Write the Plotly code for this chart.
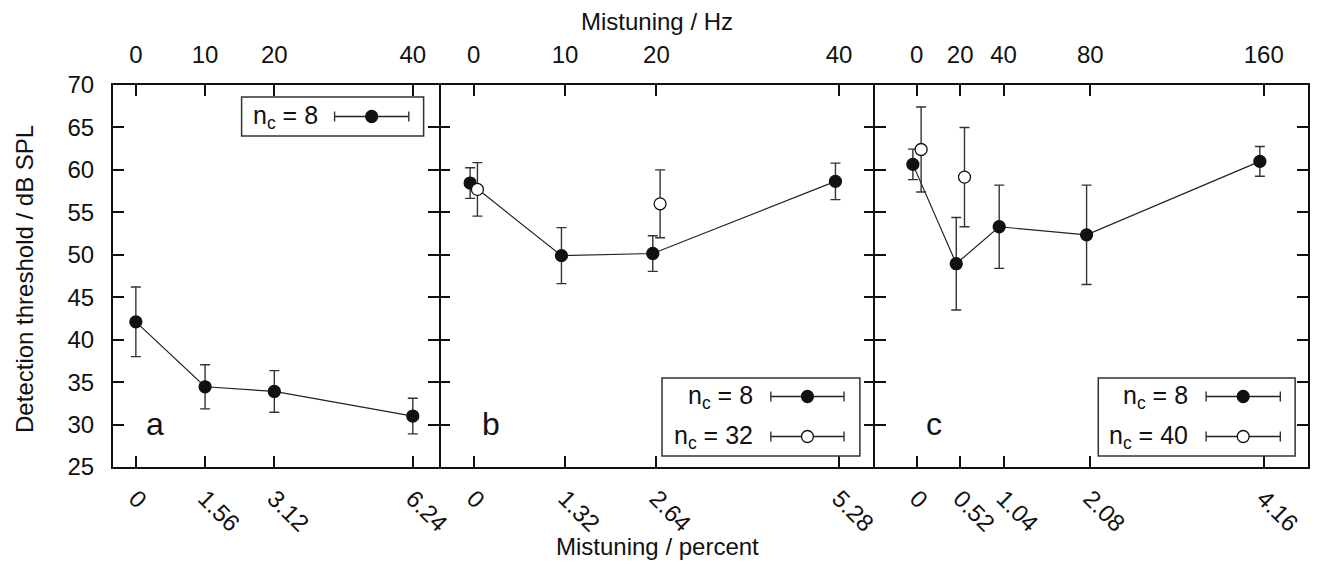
import plotly.graph_objects as go

# ---------------- data ----------------
# Panel a (n_c = 8)
a_hz_ticks = [0, 10, 20, 40]
a_pct_labels = ["0", "1.56", "3.12", "6.24"]
a_n8_x = [0, 10, 20, 40]
a_n8_y = [42.1, 34.45, 33.9, 31.0]
a_n8_err = [4.1, 2.6, 2.45, 2.1]

# Panel b
b_hz_ticks = [0, 10, 20, 40]
b_pct_labels = ["0", "1.32", "2.64", "5.28"]
b_n8_x = [-0.4, 9.6, 19.6, 39.6]
b_n8_y = [58.45, 49.9, 50.15, 58.65]
b_n8_err = [1.8, 3.3, 2.1, 2.15]
b_n32_x = [0.4, 20.4]
b_n32_y = [57.7, 56.0]
b_n32_err = [3.15, 4.0]

# Panel c
c_hz_ticks = [0, 20, 40, 80, 160]
c_pct_labels = ["0", "0.52", "1.04", "2.08", "4.16"]
c_n8_x = [-1.8, 18.2, 38.0, 78.3, 158.2]
c_n8_y = [60.65, 48.95, 53.3, 52.35, 61.0]
c_n8_err = [1.8, 5.45, 4.9, 5.85, 1.75]
c_n40_x = [2.0, 22.0]
c_n40_y = [62.4, 59.15]
c_n40_err = [5.0, 5.85]

y_ticks = [25, 30, 35, 40, 45, 50, 55, 60, 65, 70]

# ---------------- layout geometry ----------------
W, H = 1322, 564
L, R, T, B = 113, 1, 85, 97
PW = W - L - R
PH = H - T - B
FONT = "Liberation Sans, Arial, Helvetica, sans-serif"
INK = "#111111"


def px(x):
    return (x - L) / PW


def py(y):
    return (H - B - y) / PH


dom_a = [0, px(443)]
dom_b = [px(443), px(883)]
dom_c = [px(883), 1]

range_a = [-3.3, 43.85]
range_b = [-3.76, 43.9]
range_c = [-19.4, 180.4]

fig = go.Figure()


def add_series(x, y, err, xa, ya, filled, connect):
    fig.add_trace(go.Scatter(
        x=x, y=y, xaxis=xa, yaxis=ya,
        mode="lines+markers" if connect else "markers",
        line=dict(color="#222222", width=1.2),
        marker=dict(size=12, color=INK if filled else "white",
                    line=dict(color=INK, width=1.3)),
        error_y=dict(type="data", array=err, visible=True,
                     color="#333333", thickness=1.4, width=5),
        showlegend=False, hoverinfo="skip",
    ))


add_series(a_n8_x, a_n8_y, a_n8_err, "x", "y", True, True)
add_series(b_n8_x, b_n8_y, b_n8_err, "x2", "y2", True, True)
add_series(b_n32_x, b_n32_y, b_n32_err, "x2", "y2", False, False)
add_series(c_n8_x, c_n8_y, c_n8_err, "x3", "y3", True, True)
add_series(c_n40_x, c_n40_y, c_n40_err, "x3", "y3", False, False)

# invisible traces to register top axes
for xa, ya in [("x4", "y"), ("x5", "y2"), ("x6", "y3")]:
    fig.add_trace(go.Scatter(x=[None], y=[None], xaxis=xa, yaxis=ya,
                             showlegend=False, hoverinfo="skip"))

axis_common = dict(
    showline=True, linewidth=2, linecolor=INK,
    ticks="inside", tickwidth=2, tickcolor=INK,
    showgrid=False, zeroline=False,
    tickfont=dict(family=FONT, size=24, color=INK),
)


def xbottom(dom, rng, vals, labels, anchor):
    d = dict(axis_common)
    d.update(domain=dom, range=rng, tickmode="array", tickvals=vals,
             ticktext=labels, ticklen=11, tickangle=45, anchor=anchor,
             side="bottom", mirror=False, ticklabelstandoff=6)
    return d


def xtop(over, rng, vals, anchor):
    d = dict(axis_common)
    d.update(range=rng, tickmode="array", tickvals=vals,
             ticktext=[str(v) for v in vals], ticklen=11, tickangle=0,
             overlaying=over, side="top", anchor=anchor, ticklabelstandoff=10)
    return d


def yax(dom_anchor, labels, line=True):
    d = dict(axis_common)
    d.update(range=[25, 70], tickmode="array", tickvals=y_ticks,
             ticklen=11, mirror="ticks", anchor=dom_anchor, showline=line,
             showticklabels=labels, domain=[0, 1], ticklabelstandoff=12)
    return d


layout = dict(
    width=W, height=H,
    margin=dict(l=L, r=R, t=T, b=B, pad=0),
    paper_bgcolor="white", plot_bgcolor="white",
    font=dict(family=FONT, color=INK),
    xaxis=xbottom(dom_a, range_a, a_hz_ticks, a_pct_labels, "y"),
    xaxis2=xbottom(dom_b, range_b, b_hz_ticks, b_pct_labels, "y2"),
    xaxis3=xbottom(dom_c, range_c, c_hz_ticks, c_pct_labels, "y3"),
    xaxis4=xtop("x", range_a, a_hz_ticks, "y"),
    xaxis5=xtop("x2", range_b, b_hz_ticks, "y2"),
    xaxis6=xtop("x3", range_c, c_hz_ticks, "y3"),
    yaxis=yax("x", True),
    yaxis2=yax("x2", False, line=False),
    yaxis3=yax("x3", False),
)
fig.update_layout(**layout)

annotations = []
shapes = []

# axis titles
annotations.append(dict(text="Mistuning / Hz", x=px(663), y=py(22), xref="paper", yref="paper",
                        showarrow=False, xanchor="center", yanchor="middle",
                        font=dict(size=24, family=FONT, color=INK)))
annotations.append(dict(text="Mistuning / percent", x=px(663), y=py(546), xref="paper", yref="paper",
                        showarrow=False, xanchor="center", yanchor="middle",
                        font=dict(size=24, family=FONT, color=INK)))
annotations.append(dict(text="Detection threshold / dB SPL", x=px(23), y=py(279), xref="paper", yref="paper",
                        showarrow=False, xanchor="center", yanchor="middle", textangle=-90,
                        font=dict(size=24, family=FONT, color=INK)))

# panel letters
for letter, xx in [("a", 155), ("b", 495), ("c", 943)]:
    annotations.append(dict(text=letter, x=px(xx), y=py(424), xref="paper", yref="paper",
                            showarrow=False, xanchor="center", yanchor="middle",
                            font=dict(size=32, family=FONT, color=INK)))


def legend_box(x0, x1, y0, y1):
    shapes.append(dict(type="rect", xref="paper", yref="paper",
                       x0=px(x0), x1=px(x1), y0=py(y1), y1=py(y0),
                       line=dict(color="#333333", width=1.5), fillcolor="white", layer="above"))


def legend_row(text, text_right, s0, s1, yc, filled):
    annotations.append(dict(text=text, x=px(text_right), y=py(yc), xref="paper", yref="paper",
                            showarrow=False, xanchor="right", yanchor="middle",
                            font=dict(size=25, family=FONT, color=INK)))
    shapes.append(dict(type="line", xref="paper", yref="paper", x0=px(s0), x1=px(s1),
                       y0=py(yc), y1=py(yc), line=dict(color="#222222", width=1.3), layer="above"))
    for s in (s0, s1):
        shapes.append(dict(type="line", xref="paper", yref="paper", x0=px(s), x1=px(s),
                           y0=py(yc - 5), y1=py(yc + 5), line=dict(color="#333333", width=1.4), layer="above"))
    mc = (s0 + s1) / 2
    shapes.append(dict(type="circle", xref="paper", yref="paper", x0=px(mc - 6), x1=px(mc + 6),
                       y0=py(yc + 6), y1=py(yc - 6),
                       line=dict(color=INK, width=1.3), fillcolor=INK if filled else "white", layer="above"))


# legend panel a
legend_box(243, 427, 97, 136)
legend_row("n<sub>c</sub> = 8", 322, 337, 412, 116.5, True)
# legend panel b
legend_box(668, 868, 378, 456)
legend_row("n<sub>c</sub> = 8", 762, 778, 852, 396.5, True)
legend_row("n<sub>c</sub> = 32", 762, 778, 852, 436.5, False)
# legend panel c
legend_box(1109, 1308, 378, 456)
legend_row("n<sub>c</sub> = 8", 1202, 1218, 1293, 396.5, True)
legend_row("n<sub>c</sub> = 40", 1202, 1218, 1293, 436.5, False)

fig.update_layout(annotations=annotations, shapes=shapes)

fig.write_html(
    "out.html",
    config={"displayModeBar": False, "responsive": False},
    post_script="document.body.style.margin='0';document.body.style.overflow='hidden';",
)
